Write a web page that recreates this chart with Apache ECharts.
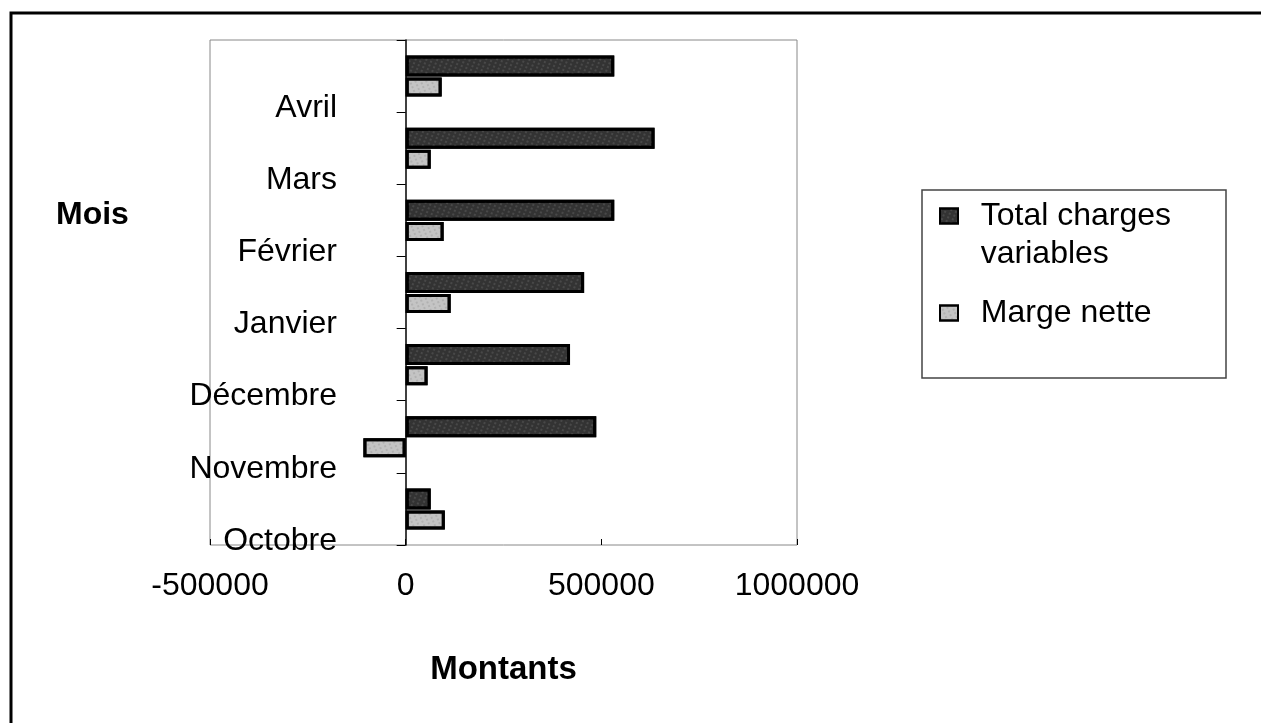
<!DOCTYPE html>
<html>
<head>
<meta charset="utf-8">
<title>Montants par mois</title>
<script src="https://cdn.jsdelivr.net/npm/echarts@6/dist/echarts.min.js"></script>
<style>
    html, body { margin: 0; padding: 0; background: #fff; }
    #chart { width: 1261px; height: 723px; }
</style>
</head>
<body>
<div id="chart"></div>
<script>
    // mois, du bas vers le haut
    const mois = ['Octobre', 'Novembre', 'Décembre', 'Janvier', 'Février', 'Mars', 'Avril']
    const chargesVariables = [64000, 487000, 420000, 456000, 533000, 636000, 533000]
    const margeNette = [100000, -108000, 56000, 115000, 97000, 64000, 92000]
    const montantTicks = [-500000, 0, 500000, 1000000]

    const font = '"Liberation Sans", Arial, sans-serif'

    const chart = echarts.init(document.getElementById('chart'))
    const option = {
        animation: false,
        aria: { enabled: true, decal: { show: true } },
        textStyle: { fontFamily: font, color: '#000' },
        grid: {
            left: 210, right: 464, top: 40, bottom: 178,
            show: true, borderColor: '#888', borderWidth: 1
        },
        legend: {
            orient: 'vertical',
            left: 934, top: 154,
            itemWidth: 18, itemHeight: 15,
            itemGap: 21,
            icon: 'rect',
            textStyle: { fontSize: 32, fontFamily: font, color: '#000', lineHeight: 38 },
            // une ligne vide en tête pour caler l'icône sur la première ligne
            formatter: name => name.indexOf('\n') >= 0
                ? '\n' + name.split('\n').map(s => '  ' + s).join('\n')
                : '  ' + name,
            data: ['Total charges\nvariables', 'Marge nette']
        },
        xAxis: {
            type: 'value',
            min: montantTicks[0],
            max: montantTicks[montantTicks.length - 1],
            interval: 500000,
            name: 'Montants',
            nameLocation: 'middle',
            nameGap: 108,
            nameTextStyle: { fontSize: 33, fontWeight: 'bold', fontFamily: font, color: '#000' },
            axisLine: { lineStyle: { color: '#000', width: 1.5 } },
            axisTick: { show: true, inside: true, length: 6, lineStyle: { color: '#000' } },
            axisLabel: { fontSize: 32, margin: 25, color: '#000', fontFamily: font,
                         formatter: v => String(v) },
            splitLine: { show: false }
        },
        yAxis: {
            type: 'category',
            data: mois,
            axisLine: { onZero: true, lineStyle: { color: '#000', width: 1.5 } },
            axisTick: { show: true, length: 9, lineStyle: { color: '#000' } },
            axisLabel: {
                fontSize: 32, color: '#000', fontFamily: font,
                margin: -127, lineHeight: 64,
                interval: 0, showMinLabel: true, showMaxLabel: true, hideOverlap: false,
                // étiquettes décalées vers le bas comme dans l'original
                formatter: v => '\n' + v
            },
            splitLine: { show: false }
        },
        graphic: [
            // cadre extérieur
            { type: 'rect', shape: { x: 11, y: 13, width: 1400, height: 900 },
              style: { fill: null, stroke: '#000', lineWidth: 3 }, silent: true },
            // cadre de la légende
            { type: 'rect', shape: { x: 922, y: 190, width: 304, height: 188 },
              style: { fill: null, stroke: '#444', lineWidth: 1.5 }, silent: true },
            { type: 'text', left: 56, top: 199,
              style: { text: 'Mois', font: 'bold 32px ' + font, fill: '#000' } }
        ],
        series: [
            {
                name: 'Total charges\nvariables',
                type: 'bar',
                data: chargesVariables,
                barWidth: 21,
                barGap: '5%',
                itemStyle: {
                    color: '#333', borderColor: '#000', borderWidth: 3,
                    decal: { symbol: 'rect', symbolSize: 0.6, color: 'rgba(255,255,255,0.35)',
                             dashArrayX: [2, 3], dashArrayY: [2, 2], rotation: 0.4 }
                }
            },
            {
                name: 'Marge nette',
                type: 'bar',
                data: margeNette,
                barWidth: 19,
                itemStyle: {
                    color: '#c4c4c4', borderColor: '#000', borderWidth: 3,
                    decal: { symbol: 'rect', symbolSize: 0.6, color: 'rgba(60,60,60,0.45)',
                             dashArrayX: [2, 3], dashArrayY: [2, 2], rotation: -0.4 }
                }
            }
        ]
    }
    chart.setOption(option)
</script>
</body>
</html>
